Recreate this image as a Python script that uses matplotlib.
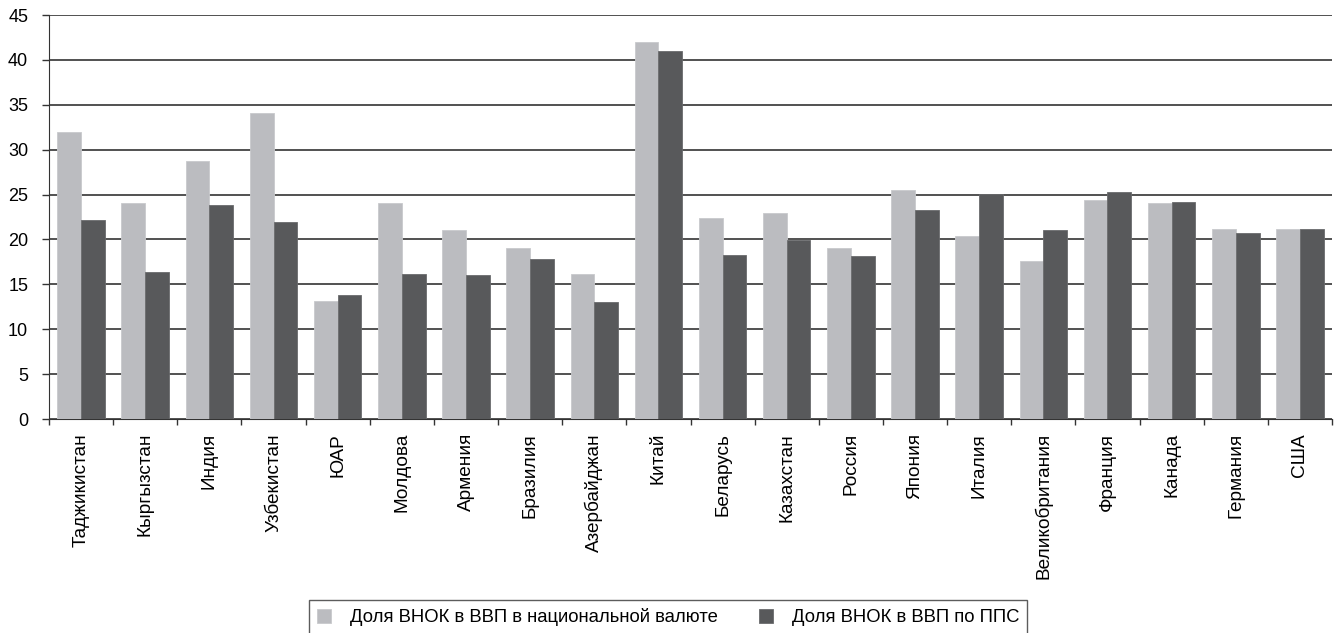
import numpy as np
import matplotlib.pyplot as plt
from matplotlib.ticker import FixedLocator

plt.rcParams["font.family"] = ["Liberation Sans", "DejaVu Sans"]

countries = [
    "Таджикистан", "Кыргызстан", "Индия", "Узбекистан", "ЮАР", "Молдова",
    "Армения", "Бразилия", "Азербайджан", "Китай", "Беларусь", "Казахстан",
    "Россия", "Япония", "Италия", "Великобритания", "Франция", "Канада",
    "Германия", "США",
]
share_national = [32.0, 24.1, 28.7, 34.1, 13.1, 24.1, 21.1, 19.0, 16.1, 42.0,
                  22.4, 23.0, 19.1, 25.5, 20.4, 17.6, 24.4, 24.1, 21.2, 21.2]
share_ppp = [22.2, 16.4, 23.8, 21.9, 13.8, 16.2, 16.0, 17.8, 13.0, 41.0,
             18.3, 19.9, 18.2, 23.3, 25.1, 21.1, 25.3, 24.2, 20.7, 21.2]
labels = ["Доля ВНОК в ВВП в национальной валюте", "Доля ВНОК в ВВП по ППС"]

fig = plt.figure(figsize=(13.41, 6.33), dpi=100)
ax = fig.add_axes([49 / 1341, 1 - 419 / 633, (1332 - 49) / 1341, (419 - 15) / 633])

x = np.arange(len(countries)) + 0.5
w = 0.37
ax.bar(x - w / 2, share_national, w, color="#bbbcc0", edgecolor="#c8c9cc",
       linewidth=0.6, label=labels[0], zorder=3)
ax.bar(x + w / 2, share_ppp, w, color="#58595b", edgecolor="#6a6b6d",
       linewidth=0.6, label=labels[1], zorder=3)

ax.set_xlim(0, len(countries))
ax.set_ylim(0, 45)
ax.set_yticks(np.arange(0, 46, 5))
ax.yaxis.grid(True, color="#222222", linewidth=1.1, zorder=0)
ax.set_axisbelow(True)

ax.set_xticks(x)
ax.set_xticklabels(countries, rotation=90, fontsize=13.7)
ax.xaxis.set_minor_locator(FixedLocator(np.arange(0, len(countries) + 1)))
ax.tick_params(axis="x", which="major", length=0, pad=10)
ax.tick_params(axis="x", which="minor", length=4.5, width=1, color="#333333")
ax.tick_params(axis="y", length=5, width=1, color="#333333", labelsize=13, pad=10)

for s in ["top", "right"]:
    ax.spines[s].set_visible(False)
ax.spines["left"].set_color("#333333")
ax.spines["bottom"].set_color("#333333")

leg = fig.legend(loc="upper center", bbox_to_anchor=(668 / 1341, 1 - 600 / 633),
                 ncol=2, fontsize=13.3, frameon=True, fancybox=False,
                 edgecolor="#333333", handlelength=0.76, handleheight=0.76,
                 columnspacing=2.2, handletextpad=1.03, borderpad=0.45,
                 borderaxespad=0)
leg.get_frame().set_linewidth(1)

plt.savefig("out.png", dpi=100)
